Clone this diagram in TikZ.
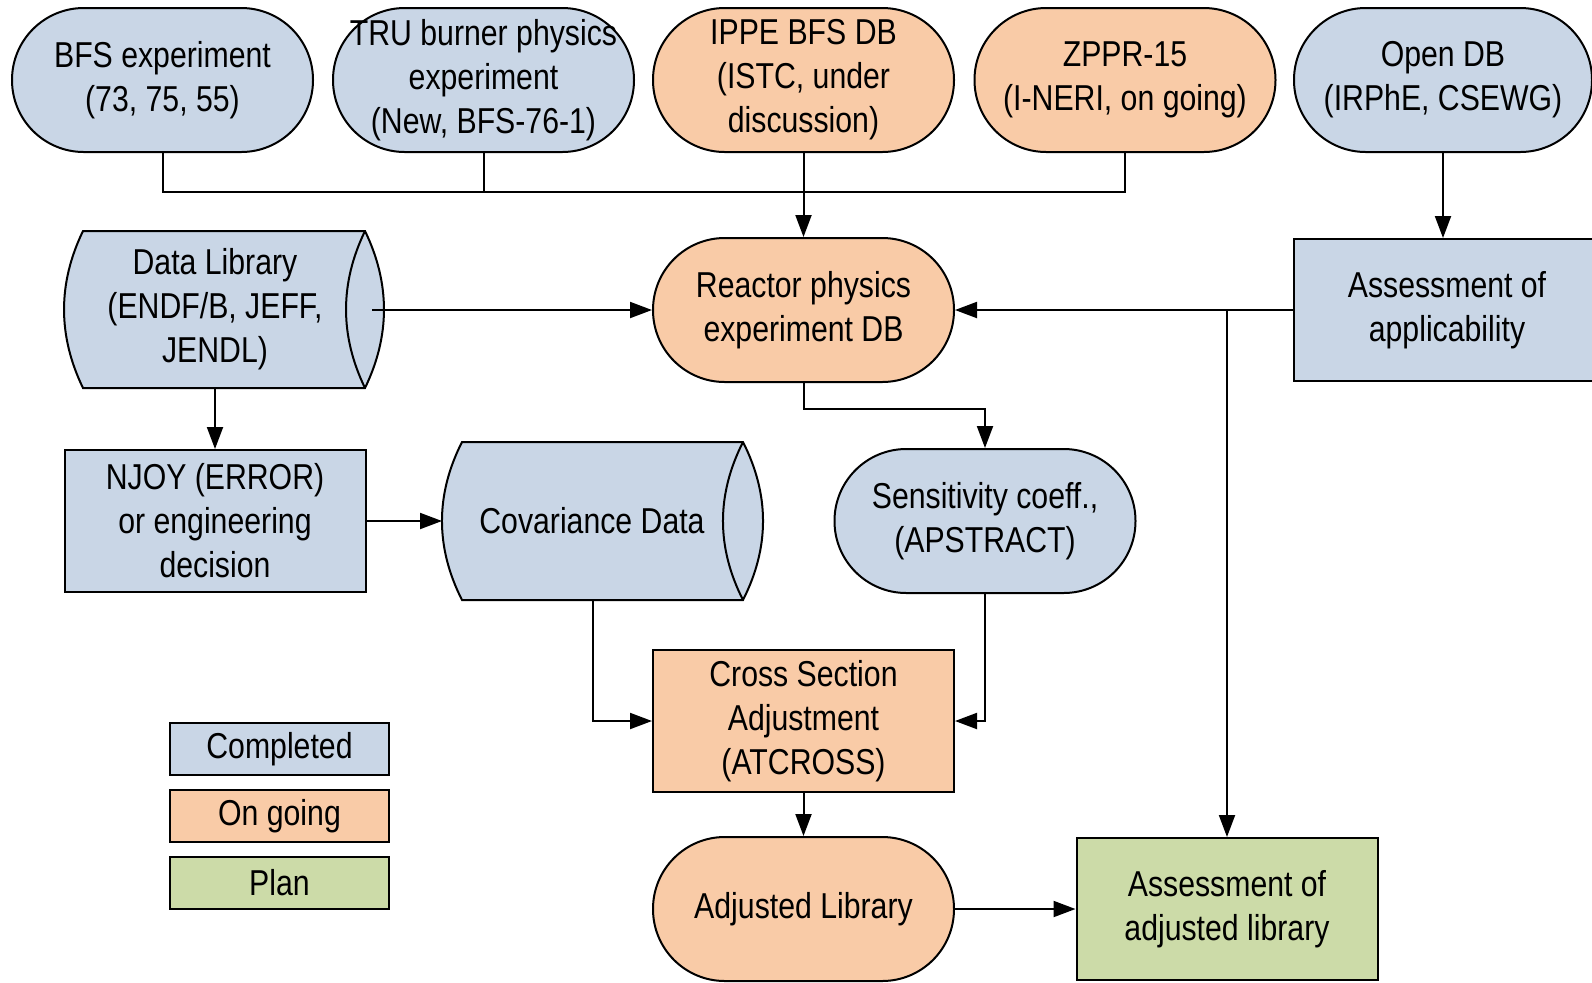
\documentclass[tikz,border=0pt]{standalone}
\usepackage{fontspec}
\setmainfont{Liberation Sans}[FakeStretch=0.84]
\usetikzlibrary{arrows.meta}
\definecolor{cdone}{RGB}{201,214,230}
\definecolor{cgoing}{RGB}{249,203,167}
\definecolor{cplan}{RGB}{204,219,168}
\tikzset{
  base/.style={draw=black, line width=1pt, inner sep=0pt, align=center, font=\fontsize{18}{22}\selectfont},
  stad/.style={base, rectangle, rounded corners=35.9pt, minimum width=150.5pt, minimum height=72pt},
  box/.style={base, rectangle, minimum width=150.5pt, minimum height=71pt},
  legbox/.style={base, rectangle, minimum width=109.5pt, minimum height=26pt},
  txt/.style={inner sep=0pt, align=center, font=\fontsize{18}{22}\selectfont},
  done/.style={fill=cdone}, going/.style={fill=cgoing}, planned/.style={fill=cplan},
  arr/.style={line width=1pt, -{Triangle[length=11pt,width=8pt]}},
  con/.style={line width=1pt},
  drum/.style={draw=black, line width=1pt, fill=cdone}
}
\begin{document}
\begin{tikzpicture}[x=0.5pt,y=-0.5pt]
\useasboundingbox (0,0) rectangle (1592,982);
\clip (0,0) rectangle (1592,982);
% top row
\node[stad,done]  (bfs)  at (162.5,80) {BFS experiment\\(73, 75, 55)};
\node[stad,done]  (tru)  at (483.5,80) {TRU burner physics\\experiment\\(New, BFS-76-1)};
\node[stad,going] (ippe) at (803.5,80) {IPPE BFS DB\\(ISTC, under\\discussion)};
\node[stad,going] (zppr) at (1125,80) {ZPPR-15\\(I-NERI, on going)};
\node[stad,done,minimum width=149pt] (open) at (1443,80) {Open DB\\(IRPhE, CSEWG)};
% second row
\node[stad,going] (reactor) at (803.5,310) {Reactor physics\\experiment DB};
\node[box,done,minimum width=153pt] (assessA) at (1447,310) {Assessment of\\applicability};
% data library drum
\path[drum] (83,231) -- (365,231) .. controls (390.3,283.3) and (390.3,335.7) .. (365,388)
  -- (83,388) .. controls (57.7,335.7) and (57.7,283.3) .. (83,231) -- cycle;
\draw[con] (365,231) .. controls (339.7,283.3) and (339.7,335.7) .. (365,388);
\node[txt] (datalib) at (215,309.5) {Data Library\\(ENDF/B, JEFF,\\JENDL)};
\coordinate (dlout) at (372,310);
\coordinate (dlbot) at (215,388);
% third row
\node[box,done] (njoy) at (215,521) {NJOY (ERROR)\\or engineering\\decision};
\path[drum] (462,442) -- (743,442) .. controls (769.7,494.7) and (769.7,547.3) .. (743,600)
  -- (462,600) .. controls (435.3,547.3) and (435.3,494.7) .. (462,442) -- cycle;
\draw[con] (743,442) .. controls (716.3,494.7) and (716.3,547.3) .. (743,600);
\node[txt] (cov) at (592,521) {Covariance Data};
\coordinate (covin) at (442,521);
\coordinate (covbot) at (593,600);
\node[stad,done] (sens) at (985,521) {Sensitivity coeff.,\\(APSTRACT)};
% fourth/fifth rows
\node[box,going] (xsec) at (803.5,721) {Cross Section\\Adjustment\\(ATCROSS)};
\node[stad,going] (adj) at (803.5,909) {Adjusted Library};
\node[box,planned] (assessB) at (1227,909) {Assessment of\\adjusted library};
% legend
\node[legbox,done]    (lg1) at (279.5,749) {Completed};
\node[legbox,going]   (lg2) at (279.5,816) {On going};
\node[legbox,planned] (lg3) at (279.5,883) {Plan};
% connectors
\coordinate (bus) at (803.5,192);
\draw[con] (bfs.south) |- (bus);
\draw[con] (tru.south) |- (bus);
\draw[con] (zppr.south) |- (bus);
\draw[arr] (ippe.south) -- (reactor.north);
\draw[arr] (open.south) -- (open.south |- assessA.north);
\draw[arr] (assessA.west) -- (reactor.east);
\draw[arr] (assessA.west -| assessB.north) -- (assessB.north);
\draw[arr] (dlout) -- (reactor.west);
\draw[arr] (dlbot) -- (njoy.north);
\draw[arr] (njoy.east) -- (covin);
\draw[arr] (covbot) |- (xsec.west);
\draw[arr] (reactor.south) -- (reactor.south |- 0,409) -| (sens.north);
\draw[arr] (sens.south) |- (xsec.east);
\draw[arr] (xsec.south) -- (adj.north);
\draw[arr] (adj.east) -- (assessB.west);
\end{tikzpicture}
\end{document}
